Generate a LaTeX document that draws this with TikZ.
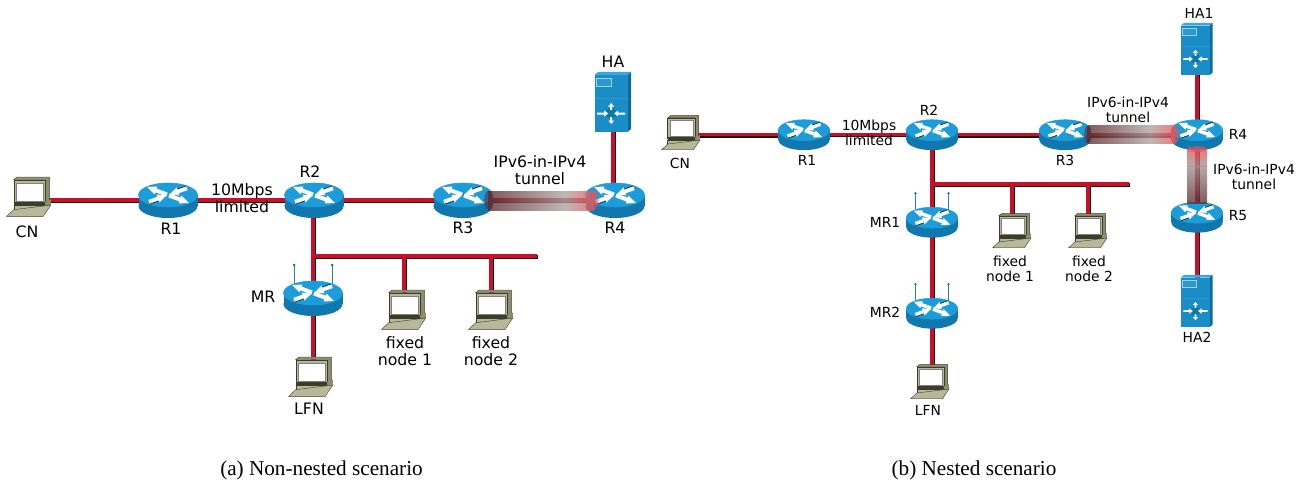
\documentclass[tikz,border=0pt]{standalone}
\usepackage{fontspec}
\setmainfont{DejaVu Sans}
\newfontfamily\capfont{Liberation Serif}
\definecolor{wirered}{HTML}{C8102E}
\definecolor{wiredark}{HTML}{1A0A0A}
\definecolor{rtop}{HTML}{1C9DD9}
\definecolor{rside}{HTML}{1078AE}
\definecolor{rshadow}{HTML}{0A4F78}
\definecolor{lapbody}{HTML}{B7B79A}
\definecolor{lapside}{HTML}{8C8C6E}
\definecolor{lapdark}{HTML}{3C3C28}
\definecolor{hubfront}{HTML}{1A8CC6}
\definecolor{hubtop}{HTML}{3AA8DC}
\definecolor{hubside}{HTML}{0E6A9C}
\definecolor{tubedark}{HTML}{5E2A2E}
\definecolor{tubemid}{HTML}{ABA4A2}
\definecolor{tubered}{HTML}{E85558}
\tikzset{
  anchorbox/.style={inner sep=0pt,minimum width=#1,minimum height=#1},
  labela/.style={inner sep=0pt,align=center,text=black,font=\fontsize{11.8}{12.75}\selectfont},
  labelb/.style={inner sep=0pt,align=center,text=black,font=\fontsize{10.4}{11.25}\selectfont},
  caption/.style={inner sep=0pt,font=\capfont\fontsize{15.9}{18}\selectfont},
  wiretop/.style={draw=wirered,line cap=butt},
  wireunder/.style={draw=wiredark,line cap=butt},
  tubeshade/.style={opacity=.78},
  pics/router/.style={code={
    \fill[rside] (0,6) ellipse [x radius=29.5,y radius=12];
    \fill[rside] (-29.5,-5) rectangle (29.5,6);
    \fill[rtop,draw=cyan!50!rtop,line width=.4pt] (0,-5) ellipse [x radius=29.5,y radius=12];
    \begin{scope}[shift={(0,-5)}]
      \foreach \sx/\sy in {1/1,-1/-1}{
        \begin{scope}[xscale=\sx,yscale=\sy]
          \fill[white] (-.32,-2.38) -- (-11.32,-6.38) -- (-10.57,-8.45) -- (-21,-8) -- (-13.43,-.55) -- (-12.68,-2.62) -- (-1.68,1.38) -- cycle;
        \end{scope}}
      \foreach \sx/\sy in {-1/1,1/-1}{
        \begin{scope}[xscale=\sx,yscale=\sy]
          \fill[white] (-18.32,-8.68) -- (-9.32,-5.48) -- (-8.57,-7.55) -- (-1.5,-.5) -- (-11.43,.35) -- (-10.68,-1.72) -- (-19.68,-4.92) -- cycle;
          \draw[rshadow!60!black,line width=.5pt] (-18.32,-9.2) -- (-9.32,-6);
        \end{scope}}
    \end{scope}
  }},
  pics/antennas/.style={code={
    \draw[draw=rside!70!gray,line width=.7pt] (-19,-33) -- (-19,-10) (19,-33) -- (19,-10);
    \fill[rside] (-19,-33) circle [radius=1.5];
    \fill[rside] (19,-33) circle [radius=1.5];
  }},
  pics/laptop/.style={code={
    \fill[lapside,draw=lapdark,line width=.3pt] (-15.3,-17.3) -- (-12,-20) -- (20.3,-20) -- (20.3,8) -- (16,10) -- (16,-17.3) -- cycle;
    \fill[lapbody,draw=lapdark,line width=.3pt] (-15.3,-17.3) rectangle (16,6);
    \fill[white,draw=gray,line width=.6pt] (-12.3,-14) rectangle (14,4);
    \fill[lapdark] (-15.3,5) rectangle (16,8);
    \fill[lapside] (16,5) -- (21.8,2.5) -- (21.8,8) -- (16,12.7) -- cycle;
    \fill[lapbody,draw=lapdark,line width=.3pt] (-15.3,8) rectangle (16,12.7);
    \fill[lapbody,draw=lapdark,line width=.3pt] (-15.3,12.7) -- (21.8,8) -- (14.3,19.3) -- (-22.3,19.3) -- cycle;
  }},
  pics/hubbox/.style={code={
    \fill[hubtop] (-18.5,-27) -- (-15,-30) -- (18,-30) -- (14.5,-27) -- cycle;
    \fill[hubside] (14.5,-27) -- (18,-30) -- (18,27) -- (14.5,30) -- cycle;
    \fill[hubfront] (-18.5,-27) rectangle (14.5,30);
    \draw[cyan!45!hubfront,line width=.5pt] (-18.5,-3.5) -- (14.5,-3.5);
    \fill[cyan!50!hubfront,draw=white!60!hubfront,line width=.3pt] (-16.5,-23.5) rectangle (-1.5,-15.5);
    \begin{scope}[shift={(-1.8,11.5)}]
      \fill[rside!70!teal] (0,0) circle [radius=5.5];
      \fill[white] (-14,-1) -- (-7,-1) -- (-7,-3) -- (-3,0) -- (-7,3) -- (-7,1) -- (-14,1) -- cycle;
      \fill[white] (14,-1) -- (7,-1) -- (7,-3) -- (3,0) -- (7,3) -- (7,1) -- (14,1) -- cycle;
      \fill[white] (-1,-3.5) -- (-1,-7) -- (-3,-7) -- (0,-10.5) -- (3,-7) -- (1,-7) -- (1,-3.5) -- cycle;
      \fill[white] (-1,3.5) -- (-1,7) -- (-3,7) -- (0,10.5) -- (3,7) -- (1,7) -- (1,3.5) -- cycle;
    \end{scope}
  }},
}
\newcommand{\wire}[3][3pt]{%
  \draw[wireunder,line width=#1] ([shift={(.9pt,-.9pt)}]#2.center) -- ([shift={(.9pt,-.9pt)}]#3.center);
  \draw[wiretop,line width=#1] (#2.center) -- (#3.center);}
\begin{document}
\begin{tikzpicture}[x=.75pt,y=-.75pt]
\useasboundingbox (0,0) rectangle (1313,485);
% --- left scenario: anchors
\node[anchorbox=30pt] (aCN) at (29,197) {};
\node[anchorbox=30pt] (aRa) at (168,200) {};
\node[anchorbox=30pt] (aRb) at (314,200) {};
\node[anchorbox=30pt] (aRc) at (463,200) {};
\node[anchorbox=30pt] (aRd) at (615,200) {};
\node[anchorbox=30pt] (aHA) at (613,102) {};
\node[anchorbox=30pt] (aMR) at (313,298) {};
\node[anchorbox=30pt] (aLF) at (311,377) {};
\node[anchorbox=30pt] (aFa) at (404,310) {};
\node[anchorbox=30pt] (aFb) at (491,310) {};
\coordinate (aBs) at (313,256);
\coordinate (aBe) at (537,256);
\coordinate (aJa) at (404,256);
\coordinate (aJb) at (491,256);
\coordinate (aDr) at (313,377);
\coordinate (aCw) at (29,200);
\coordinate (aRw) at (613,200);
\coordinate (aRm) at (313,200);
\coordinate (aTm) at (565,200);
\wire{aCw}{aRa}
\wire[2.6pt]{aRa}{aRb}
\wire{aRb}{aRc}
\wire{aRc}{aRd}
\wire{aHA}{aRw}
\wire{aRm}{aDr}
\wire{aBs}{aBe}
\wire{aJa}{aFa}
\wire{aJb}{aFb}
\pic at (aMR) {antennas};
\pic at (aCN) {laptop};
\pic at (aRa) {router};
\pic at (aRb) {router};
\pic at (aRc) {router};
\pic at (aRd) {router};
\pic at (aHA) {hubbox};
\pic at (aMR) {router};
\pic at (aLF) {laptop};
\pic at (aFa) {laptop};
\pic at (aFb) {laptop};
\shade[tubeshade,left color=tubedark,right color=tubemid]
  ([shift={(19pt,-7.5pt)}]aRc.center) rectangle ([yshift=6.5pt]aTm);
\shade[tubeshade,left color=tubemid,right color=tubered]
  ([yshift=-7.5pt]aTm) rectangle ([shift={(-16pt,6.5pt)}]aRd.center);
\fill[tubedark,opacity=.55] ([xshift=19pt]aRc.center) ellipse [x radius=4,y radius=9.5];
\fill[tubered,opacity=.6] ([xshift=-16pt]aRd.center) ellipse [x radius=5,y radius=9.5];
\node[labela] (tCN) at (27,232) {CN};
\node[labela] (tRa) at (171,229) {R1};
\node[labela] (tRb) at (310,172) {R2};
\node[labela] (tRc) at (463,228) {R3};
\node[labela] (tRd) at (615,228) {R4};
\node[labela] (tHA) at (613,62) {HA};
\node[labela] (tMR) at (263,297) {MR};
\node[labela] (tLF) at (309,409) {LFN};
\node[labela] (tLm) at (242,198) {10Mbps\\limited};
\node[labela] (tTu) at (540,170) {IPv6-in-IPv4\\tunnel};
\node[labela] (tFa) at (405,351) {fixed\\node 1};
\node[labela] (tFb) at (491,351) {fixed\\node 2};
% --- right scenario: anchors
\node[anchorbox=26pt] (bCN) at (681,133) {};
\node[anchorbox=26pt] (bRa) at (804,134.5) {};
\node[anchorbox=26pt] (bRb) at (932,134.5) {};
\node[anchorbox=26pt] (bRc) at (1065,134.5) {};
\node[anchorbox=26pt] (bRd) at (1197,134.5) {};
\node[anchorbox=26pt] (bRe) at (1197,217) {};
\node[anchorbox=26pt] (bHa) at (1197,49) {};
\node[anchorbox=26pt] (bHb) at (1197,301) {};
\node[anchorbox=26pt] (bMa) at (932,222) {};
\node[anchorbox=26pt] (bMb) at (932,313) {};
\node[anchorbox=26pt] (bLF) at (930,382) {};
\node[anchorbox=26pt] (bFa) at (1012,231) {};
\node[anchorbox=26pt] (bFb) at (1088,231) {};
\coordinate (bBs) at (932,184);
\coordinate (bBe) at (1129,184);
\coordinate (bJa) at (1012,184);
\coordinate (bJb) at (1088,184);
\coordinate (bDr) at (932,382);
\coordinate (bCw) at (681,134.5);
\coordinate (bTm) at (1150,134.5);
\coordinate (bTv) at (1197,166);
\wire[2.7pt]{bCw}{bRa}
\wire[2.3pt]{bRa}{bRb}
\wire[2.7pt]{bRb}{bRc}
\wire[2.7pt]{bRc}{bRd}
\wire[2.7pt]{bHa}{bRd}
\wire[2.7pt]{bRd}{bRe}
\wire[2.7pt]{bRe}{bHb}
\wire[2.7pt]{bRb}{bDr}
\wire[2.7pt]{bBs}{bBe}
\wire[2.7pt]{bJa}{bFa}
\wire[2.7pt]{bJb}{bFb}
\pic[scale=.87] at (bMa) {antennas};
\pic[scale=.87] at (bMb) {antennas};
\pic[scale=.87] at (bCN) {laptop};
\pic[scale=.87] at (bRa) {router};
\pic[scale=.87] at (bRb) {router};
\pic[scale=.87] at (bRc) {router};
\pic[scale=.87] at (bRd) {router};
\pic[scale=.87] at (bRe) {router};
\pic[scale=.87] at (bHa) {hubbox};
\pic[scale=.87] at (bHb) {hubbox};
\pic[scale=.87] at (bMa) {router};
\pic[scale=.87] at (bMb) {router};
\pic[scale=.87] at (bLF) {laptop};
\pic[scale=.87] at (bFa) {laptop};
\pic[scale=.87] at (bFb) {laptop};
\shade[tubeshade,left color=tubedark,right color=tubemid]
  ([shift={(17pt,-6.5pt)}]bRc.center) rectangle ([yshift=6.5pt]bTm);
\shade[tubeshade,left color=tubemid,right color=tubered]
  ([yshift=-6.5pt]bTm) rectangle ([shift={(-16.5pt,6.5pt)}]bRd.center);
\fill[tubedark,opacity=.55] ([xshift=17pt]bRc.center) ellipse [x radius=3.5,y radius=8.7];
\fill[tubered,opacity=.6] ([xshift=-16.5pt]bRd.center) ellipse [x radius=4,y radius=8.7];
\shade[tubeshade,top color=tubered,bottom color=tubemid!85!tubedark]
  ([shift={(-7.5pt,-11pt)}]bRd.center) rectangle ([xshift=7.5pt]bTv);
\shade[tubeshade,top color=tubemid!85!tubedark,bottom color=tubedark]
  ([xshift=-7.5pt]bTv) rectangle ([shift={(7.5pt,10pt)}]bRe.center);
\fill[tubered,opacity=.6] ([yshift=-11pt]bRd.center) ellipse [x radius=10,y radius=3];
\node[labelb] (uCN) at (680,163) {CN};
\node[labelb] (uRa) at (807,160) {R1};
\node[labelb] (uRb) at (929,110) {R2};
\node[labelb] (uRc) at (1065,160) {R3};
\node[labelb] (uRd) at (1238,134) {R4};
\node[labelb] (uRe) at (1238,216) {R5};
\node[labelb] (uHa) at (1199,13) {HA1};
\node[labelb] (uHb) at (1197,337) {HA2};
\node[labelb] (uMa) at (885,222) {MR1};
\node[labelb] (uMb) at (885,312) {MR2};
\node[labelb] (uLF) at (928,410) {LFN};
\node[labelb] (uLm) at (869,132.5) {10Mbps\\limited};
\node[labelb] (uTa) at (1128,109.5) {IPv6-in-IPv4\\tunnel};
\node[labelb] (uTb) at (1254,176.5) {IPv6-in-IPv4\\tunnel};
\node[labelb] (uFa) at (1010,268.5) {fixed\\node 1};
\node[labelb] (uFb) at (1089,268.5) {fixed\\node 2};
% --- captions
\node[caption] (capa) at (321.5,470) {(a) Non-nested scenario};
\node[caption] (capb) at (974,470) {(b) Nested scenario};
\end{tikzpicture}
\end{document}
